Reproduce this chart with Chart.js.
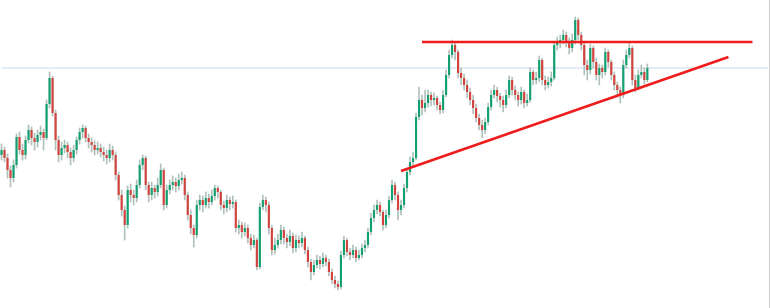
<!DOCTYPE html>
<html lang="en">
<head>
    <meta charset="UTF-8">
    <title>Ascending triangle</title>
    <script src="https://cdn.jsdelivr.net/npm/chart.js"></script>
    <style>
        html, body { margin: 0; padding: 0; background: #ffffff; }
        #chart { display: block; }
    </style>
</head>
<body>
    <canvas id="chart" width="770" height="308"></canvas>

    <script>
        // Price in points
        const opens = [
            145,150,142,130,122,135,163,150,145,160,170,162,158,165,168,162,196,222,187,160,
            145,152,155,148,142,150,160,168,172,162,158,155,150,152,148,145,142,150,145,125,
            105,90,75,110,105,102,115,135,142,115,105,112,108,115,130,95,110,115,118,114,
            120,122,105,85,72,65,95,100,95,102,98,104,112,108,95,92,100,96,98,72,
            75,68,72,62,55,60,33,93,100,95,72,50,55,60,70,62,58,64,52,60,
            57,62,50,38,28,35,40,36,42,38,28,20,16,13,45,60,48,45,50,42,
            45,52,55,68,82,90,95,88,75,85,100,115,105,90,95,112,128,138,142,183,
            200,192,197,205,200,202,195,190,205,225,245,255,248,227,222,215,208,200,192,182,
            175,170,178,193,205,210,204,200,195,205,220,210,205,200,208,197,200,228,220,222,
            240,220,215,218,222,255,258,260,265,258,252,260,280,265,255,235,230,252,238,225,
            232,228,248,238,225,215,210,205,235,245,252,220,212,225,228,220
        ];
        const highs = [
            156,153,146,134,140,166,168,156,164,175,173,167,170,174,171,200,228,224,190,164,
            158,160,158,152,155,163,172,175,174,166,162,159,158,156,153,150,156,154,148,128,
            110,94,114,116,110,120,140,145,144,118,118,115,122,136,132,115,120,124,122,126,
            128,125,108,90,75,100,105,104,108,106,110,115,114,110,99,105,103,104,100,80,
            78,77,75,66,65,62,97,105,103,98,75,62,66,75,73,66,70,67,65,64,
            68,64,53,41,40,45,44,47,45,41,31,24,19,49,64,62,52,55,53,50,
            56,60,72,87,95,100,98,90,90,104,120,118,108,100,116,132,143,148,187,213,
            205,210,210,208,207,204,198,210,230,250,260,258,250,232,226,220,212,205,196,186,
            180,182,197,210,215,213,207,204,210,224,223,214,208,213,210,206,232,230,228,244,
            242,224,223,228,258,263,265,270,268,262,266,283,282,268,258,240,256,254,242,236,
            235,252,250,240,228,218,213,240,250,257,254,225,230,235,232,236
        ];
        const lows = [
            140,138,122,113,118,132,146,140,141,157,155,150,153,160,150,160,192,184,150,138,
            140,147,142,135,138,146,156,162,158,152,148,145,146,143,139,136,138,140,120,100,
            84,60,72,98,95,98,112,130,110,98,100,102,104,112,90,92,106,110,108,110,
            116,100,80,66,53,62,90,88,92,92,95,100,102,90,86,88,90,92,68,66,
            62,64,57,50,52,30,31,90,88,66,45,46,52,56,56,52,54,47,48,52,
            53,46,33,20,25,32,31,33,34,24,16,12,10,11,42,44,40,42,38,40,
            42,48,52,65,78,86,84,70,72,82,97,100,80,85,92,108,125,134,140,180,
            185,188,193,194,195,190,186,187,203,222,242,240,222,215,210,202,195,186,178,170,
            162,166,175,190,202,198,193,188,192,202,205,200,194,196,192,194,198,215,216,218,
            215,210,212,214,220,250,252,256,253,246,248,256,260,250,225,220,226,232,220,215,
            222,225,233,220,210,203,197,202,232,242,215,208,210,222,216,218
        ];
        const closes = [
            150,142,130,122,135,163,150,145,160,170,162,158,165,168,162,196,222,187,160,145,
            152,155,148,142,150,160,168,172,162,158,155,150,152,148,145,142,150,145,125,105,
            90,75,110,105,102,115,135,142,115,105,112,108,115,130,95,110,115,118,114,120,
            122,105,85,72,65,95,100,95,102,98,104,112,108,95,92,100,96,98,72,75,
            68,72,62,55,60,33,93,100,95,72,50,55,60,70,62,58,64,52,60,57,
            62,50,38,28,35,40,36,42,38,28,20,16,13,45,60,48,45,50,42,45,
            52,55,68,82,90,95,88,75,85,100,115,105,90,95,112,128,138,142,183,200,
            192,197,205,200,202,195,190,205,225,245,255,248,227,222,215,208,200,192,182,175,
            170,178,193,205,210,204,200,195,205,220,210,205,200,208,197,200,228,220,222,240,
            220,215,218,222,255,258,260,265,258,252,260,280,265,255,235,230,252,238,225,232,
            228,248,238,225,215,210,205,235,245,252,220,212,225,228,220,232
        ];

        // Drawn levels: horizontal resistance and rising support (bar index, price)
        const resistancePrice = 258;
        const resistanceBars = [140, 250];
        const supportFrom = [133, 129];
        const supportTo = [242, 243];
        const lastPrice = 232;
        const barSlots = 256; // candles plus empty space on the right

        const labels = Array.from({ length: barSlots }, (_, i) => i);
        const green = '#12a071';
        const red = '#d2433d';

        new Chart(document.getElementById('chart'), {
            type: 'bar',
            data: {
                labels: labels,
                datasets: [
                    {
                        type: 'line',
                        data: [{ x: resistanceBars[0], y: resistancePrice }, { x: resistanceBars[1], y: resistancePrice }],
                        borderColor: '#f01c1c',
                        borderWidth: 2.5,
                        pointRadius: 0,
                        order: 0
                    },
                    {
                        type: 'line',
                        data: [{ x: supportFrom[0], y: supportFrom[1] }, { x: supportTo[0], y: supportTo[1] }],
                        borderColor: '#f01c1c',
                        borderWidth: 2.5,
                        pointRadius: 0,
                        order: 0
                    },
                    {
                        // candle bodies
                        data: opens.map((o, i) => [o, closes[i]]),
                        backgroundColor: opens.map((o, i) => closes[i] >= o ? green : red),
                        borderWidth: 0,
                        barPercentage: 0.72,
                        categoryPercentage: 1,
                        grouped: false,
                        order: 1
                    },
                    {
                        // wicks
                        data: lows.map((l, i) => [l, highs[i]]),
                        backgroundColor: 'rgba(150, 172, 162, 0.75)',
                        borderWidth: 0,
                        barThickness: 1,
                        grouped: false,
                        order: 2
                    },
                    {
                        // last price line
                        type: 'line',
                        data: [{ x: 0, y: lastPrice }, { x: barSlots - 1, y: lastPrice }],
                        borderColor: '#c8d8ea',
                        borderWidth: 1,
                        pointRadius: 0,
                        order: 3
                    }
                ]
            },
            options: {
                responsive: false,
                animation: false,
                layout: { padding: 0 },
                plugins: {
                    legend: { display: false },
                    tooltip: { enabled: false }
                },
                scales: {
                    x: {
                        display: false,
                        offset: true
                    },
                    y: {
                        position: 'right',
                        min: -8,
                        max: 300,
                        ticks: { display: false },
                        grid: { display: false, drawTicks: false },
                        border: { display: true, color: '#cfcfcf', width: 1 },
                        afterFit: s => { s.width = 1; }
                    }
                }
            }
        });
    </script>
</body>
</html>
